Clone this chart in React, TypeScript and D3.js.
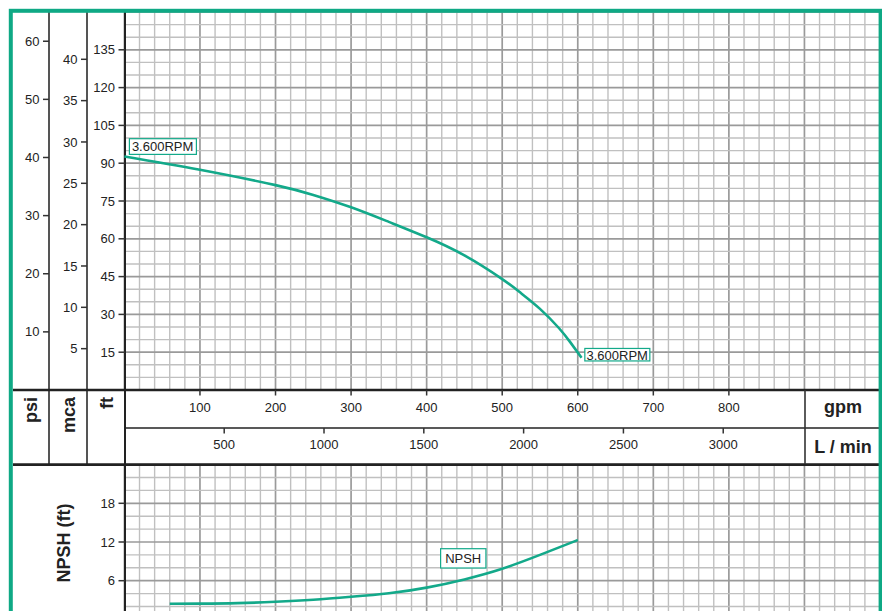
import React from "react";
import * as d3 from "d3";

// Head curve (3.600 RPM): flow in gpm, head in ft
const headGpm = [0, 100, 200, 250, 300, 350, 400, 450, 500, 525, 550, 575, 590, 605];
const headFt = [92.7, 87.4, 81.3, 77.4, 72.5, 66.7, 60.6, 53.4, 44.0, 38.4, 32.2, 24.6, 19.0, 12.8];

// NPSH curve: flow in gpm, NPSH in ft
const npshGpm = [60, 100, 150, 200, 250, 300, 350, 400, 450, 500, 550, 600];
const npshFt = [2.42, 2.44, 2.52, 2.73, 3.05, 3.5, 4.05, 4.93, 6.2, 7.85, 10.0, 12.3];

// Axis ticks
const psiTicks = [10, 20, 30, 40, 50, 60];
const mcaTicks = [5, 10, 15, 20, 25, 30, 35, 40];
const ftTicks = [15, 30, 45, 60, 75, 90, 105, 120, 135];
const npshTicks = [6, 12, 18];
const gpmTicks = [100, 200, 300, 400, 500, 600, 700, 800];
const lpmTicks = [500, 1000, 1500, 2000, 2500, 3000];

const rpmLabel = "3.600RPM";
const npshLabel = "NPSH";

const GREEN = "#13a98a";
const FONT = "'Liberation Sans', Arial, Helvetica, sans-serif";

export default function App() {
  const W = 882;
  const H = 611;
  const x = d3.scaleLinear().domain([0, 1000]).range([124.4, 880]);
  const lpm = d3.scaleLinear().domain([0, 1000 * 3.78541]).range([124.4, 880]);
  const yFt = d3.scaleLinear().domain([0, 150]).range([390, 12]);
  const yPsi = (p: number) => yFt(p * 2.3067);
  const yMca = (m: number) => yFt(m * 3.2808);
  const yN = d3.scaleLinear().domain([0, 24]).range([619.4, 464.6]);

  const headLine = d3
    .line<number>()
    .x((_, i) => x(headGpm[i]))
    .y((d) => yFt(d))
    .curve(d3.curveNatural);
  const npshLine = d3
    .line<number>()
    .x((_, i) => x(npshGpm[i]))
    .y((d) => yN(d))
    .curve(d3.curveNatural);

  const vGrid = d3.range(0, 1001, 20);
  const hGridFt = d3.range(0, 151, 5);
  const hGridN = d3.range(0, 25, 2);

  const minorC = "#c0c0c0";
  const majorC = "#9a9a9a";

  const headStart = { x: x(headGpm[0]), y: yFt(headFt[0]) };
  const headEnd = { x: x(headGpm[headGpm.length - 1]), y: yFt(headFt[headFt.length - 1]) };

  return (
    <svg
      width={W}
      height={H}
      style={{ position: "absolute", left: 0, top: 0, background: "#fff" }}
      fontFamily={FONT}
    >
      <rect x={0} y={0} width={W} height={H} fill="#fff" />
      {/* upper grid */}
      <g>
        {vGrid.map((g) => (
          <line
            key={"uv" + g}
            x1={x(g)}
            x2={x(g)}
            y1={12}
            y2={390}
            stroke={g % 100 === 0 ? majorC : minorC}
            strokeWidth={g % 100 === 0 ? 1.7 : 1.4}
          />
        ))}
        {hGridFt.map((f) => (
          <line
            key={"uh" + f}
            x1={125}
            x2={880}
            y1={yFt(f)}
            y2={yFt(f)}
            stroke={f % 15 === 0 ? majorC : minorC}
            strokeWidth={f % 15 === 0 ? 1.7 : 1.4}
          />
        ))}
      </g>
      {/* lower grid */}
      <g>
        {vGrid.map((g) => (
          <line
            key={"lv" + g}
            x1={x(g)}
            x2={x(g)}
            y1={465}
            y2={H}
            stroke={g % 100 === 0 ? majorC : minorC}
            strokeWidth={g % 100 === 0 ? 1.7 : 1.4}
          />
        ))}
        {hGridN.map((f) => (
          <line
            key={"lh" + f}
            x1={125}
            x2={880}
            y1={yN(f)}
            y2={yN(f)}
            stroke={f % 6 === 0 ? majorC : minorC}
            strokeWidth={f % 6 === 0 ? 1.7 : 1.4}
          />
        ))}
      </g>

      {/* structure lines */}
      <line x1={49} x2={49} y1={12} y2={464} stroke="#555" strokeWidth={2} />
      <line x1={87} x2={87} y1={12} y2={464} stroke="#555" strokeWidth={2} />
      <line x1={125} x2={125} y1={12} y2={H} stroke="#222" strokeWidth={2} />
      <line x1={13} x2={880} y1={390} y2={390} stroke="#222" strokeWidth={2.4} />
      <line x1={125} x2={880} y1={428} y2={428} stroke="#222" strokeWidth={1.6} />
      <line x1={13} x2={880} y1={464.6} y2={464.6} stroke="#222" strokeWidth={2.7} />
      <line x1={805} x2={805} y1={390} y2={464} stroke="#333" strokeWidth={1.6} />

      {/* left axes */}
      <g fontSize={13} fill="#222">
        {psiTicks.map((t) => (
          <g key={"psi" + t}>
            <line x1={43} x2={49} y1={yPsi(t)} y2={yPsi(t)} stroke="#333" strokeWidth={1.5} />
            <text x={39.5} y={yPsi(t)} textAnchor="end" dy="0.35em">
              {t}
            </text>
          </g>
        ))}
        {mcaTicks.map((t) => (
          <g key={"mca" + t}>
            <line x1={81} x2={87} y1={yMca(t)} y2={yMca(t)} stroke="#333" strokeWidth={1.5} />
            <text x={77.5} y={yMca(t)} textAnchor="end" dy="0.35em">
              {t}
            </text>
          </g>
        ))}
        {ftTicks.map((t) => (
          <g key={"ft" + t}>
            <line x1={118.5} x2={125} y1={yFt(t)} y2={yFt(t)} stroke="#333" strokeWidth={1.5} />
            <text x={115} y={yFt(t)} textAnchor="end" dy="0.35em">
              {t}
            </text>
          </g>
        ))}
        {npshTicks.map((t) => (
          <g key={"np" + t}>
            <line x1={118.5} x2={125} y1={yN(t)} y2={yN(t)} stroke="#333" strokeWidth={1.5} />
            <text x={115} y={yN(t)} textAnchor="end" dy="0.35em">
              {t}
            </text>
          </g>
        ))}
      </g>

      {/* bottom axes */}
      <g fontSize={13} fill="#222">
        {gpmTicks.map((t) => (
          <g key={"g" + t}>
            <line x1={x(t)} x2={x(t)} y1={390} y2={395.5} stroke="#333" strokeWidth={1.5} />
            <text x={x(t)} y={411.5} textAnchor="middle">
              {t}
            </text>
          </g>
        ))}
        {lpmTicks.map((t) => (
          <g key={"l" + t}>
            <line x1={lpm(t)} x2={lpm(t)} y1={428} y2={433.5} stroke="#333" strokeWidth={1.5} />
            <text x={lpm(t)} y={449} textAnchor="middle">
              {t}
            </text>
          </g>
        ))}
      </g>

      {/* unit labels */}
      <g fontSize={18} fontWeight="bold" fill="#222">
        <text x={843} y={413} textAnchor="middle">gpm</text>
        <text x={843} y={453} textAnchor="middle">L / min</text>
        <text transform="translate(37,397) rotate(-90)" textAnchor="end">psi</text>
        <text transform="translate(74.5,397) rotate(-90)" textAnchor="end">mca</text>
        <text transform="translate(112.5,397) rotate(-90)" textAnchor="end">ft</text>
        <text transform="translate(69.5,543) rotate(-90)" textAnchor="middle">NPSH (ft)</text>
      </g>

      {/* curves */}
      <path d={headLine(headFt) || ""} fill="none" stroke={GREEN} strokeWidth={2.6} />
      <path d={npshLine(npshFt) || ""} fill="none" stroke={GREEN} strokeWidth={2.6} />

      {/* curve labels */}
      <g fontSize={13} fill="#222">
        <rect x={headStart.x + 5} y={headStart.y - 17.7} width={67} height={15.7} fill="#fff" stroke={GREEN} strokeWidth={1.2} />
        <text x={headStart.x + 7.5} y={headStart.y - 5.2}>{rpmLabel}</text>
        <rect x={headEnd.x + 3.3} y={headEnd.y - 9.3} width={65} height={12.5} fill="#fff" stroke={GREEN} strokeWidth={1.2} />
        <text x={headEnd.x + 5} y={headEnd.y + 1.8}>{rpmLabel}</text>
        <rect x={x(418.5)} y={548.7} width={45.3} height={19.3} fill="#fff" stroke={GREEN} strokeWidth={1.2} />
        <text x={x(418.5) + 22.6} y={563} textAnchor="middle">{npshLabel}</text>
      </g>

      {/* frame */}
      <rect x={10.8} y={10.8} width={869.8} height={640} fill="none" stroke="#0fa985" strokeWidth={4} />
    </svg>
  );
}
